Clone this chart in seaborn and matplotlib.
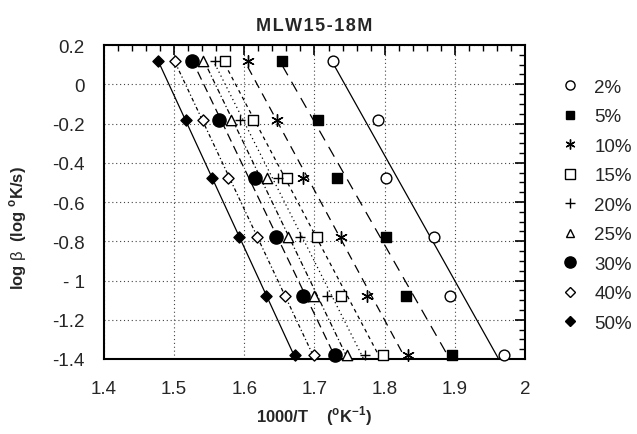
import numpy as np
import pandas as pd
import matplotlib
matplotlib.use("Agg")
import matplotlib.pyplot as plt
import seaborn as sns
from matplotlib.ticker import MultipleLocator
from matplotlib.lines import Line2D

# ---- data ----
log_beta = [0.12, -0.18, -0.48, -0.78, -1.08, -1.38]
conversions = ["2%", "5%", "10%", "15%", "20%", "25%", "30%", "40%", "50%"]
x_2 = [1.726, 1.790, 1.802, 1.870, 1.893, 1.970]
x_5 = [1.654, 1.705, 1.732, 1.802, 1.830, 1.896]
x_10 = [1.605, 1.646, 1.684, 1.738, 1.775, 1.833]
x_15 = [1.572, 1.612, 1.661, 1.703, 1.738, 1.797]
x_20 = [1.558, 1.594, 1.648, 1.679, 1.718, 1.772]
x_25 = [1.541, 1.581, 1.632, 1.662, 1.700, 1.746]
x_30 = [1.525, 1.564, 1.615, 1.645, 1.684, 1.729]
x_40 = [1.501, 1.541, 1.577, 1.618, 1.658, 1.699]
x_50 = [1.477, 1.517, 1.554, 1.592, 1.631, 1.672]
series_x = [x_2, x_5, x_10, x_15, x_20, x_25, x_30, x_40, x_50]
x_tick_labels = ["1.4", "1.5", "1.6", "1.7", "1.8", "1.9", "2"]
y_tick_labels = ["-1.4", "-1.2", "- 1", "-0.8", "-0.6", "-0.4", "-0.2", "0", "0.2"]

# ---- styles ----
styles = [
    dict(marker="o", fc="white", s=60, ls="-"),
    dict(marker="s", fc="black", s=55, ls=(0, (9, 6))),
    dict(marker=(6, 2, 0), fc="black", s=70, ls=(0, (7, 5))),
    dict(marker="s", fc="white", s=60, ls=(0, (3, 3))),
    dict(marker="+", fc="black", s=60, ls=(0, (1, 2.5))),
    dict(marker="^", fc="white", s=55, ls=(0, (4, 2, 1, 2))),
    dict(marker="o", fc="black", s=90, ls=(0, (7, 4))),
    dict(marker="D", fc="white", s=32, ls=(0, (3, 2, 1, 2))),
    dict(marker="D", fc="black", s=32, ls="-"),
]

sns.set_style("white")
plt.rcParams["font.family"] = ["Liberation Sans", "DejaVu Sans"]
plt.rcParams["mathtext.fontset"] = "custom"
plt.rcParams["mathtext.rm"] = "Liberation Sans"
plt.rcParams["mathtext.bf"] = "Liberation Sans:bold"

fig = plt.figure(figsize=(6.37, 4.35), dpi=100)
ax = fig.add_axes([104 / 637, 1 - 360 / 435, (525 - 104) / 637, (360 - 46) / 435])

handles = []
for lab, xs, st in zip(conversions, series_x, styles):
    df = pd.DataFrame({"x": xs, "y": log_beta})
    sns.regplot(data=df, x="x", y="y", ax=ax, ci=None, scatter=False, truncate=True,
                color="black", line_kws=dict(lw=0.9, ls=st["ls"], zorder=2))
    if st["marker"] == "+":
        ax.scatter(xs, log_beta, marker="+", c="black", s=st["s"], linewidths=1.0,
                   zorder=3, clip_on=False)
    else:
        ax.scatter(xs, log_beta, marker=st["marker"], facecolors=st["fc"],
                   edgecolors="black", s=st["s"], linewidths=1.0, zorder=3, clip_on=False)
    handles.append(Line2D([], [], ls="none", marker=st["marker"],
                          markerfacecolor=st["fc"], markeredgecolor="black",
                          color="black", markersize=np.sqrt(st["s"]) * 0.85,
                          markeredgewidth=1.0, label=lab))

ax.set_xlim(1.4, 2.0)
ax.set_ylim(-1.4, 0.2)
ax.xaxis.set_minor_locator(MultipleLocator(0.02))
ax.yaxis.set_minor_locator(MultipleLocator(0.05))
ax.set_xticks(np.arange(1.4, 2.01, 0.1))
ax.set_xticklabels(x_tick_labels)
ax.set_yticks(np.arange(-1.4, 0.21, 0.2))
ax.set_yticklabels(y_tick_labels)

ax.grid(True, which="major", ls=(0, (1, 2.5)), lw=0.8, color="#444444")
ax.tick_params(which="both", direction="in", top=True, right=True, color="black")
ax.tick_params(axis="x", which="major", length=7, width=1.2, labelsize=13.5, pad=15)
ax.tick_params(axis="y", which="major", length=7, width=1.2, labelsize=13.5, pad=14)
ax.tick_params(which="minor", length=4, width=1.0)
for sp in ax.spines.values():
    sp.set_visible(True)
    sp.set_color("black")
    sp.set_linewidth(1.5)

ax.set_title("M L W 1 5 - 1 8 M".replace(" ", "\u200a"), fontsize=13, fontweight="bold", pad=11)
ax.set_xlabel(r"1000/T    ($^{\mathbf{o}}$K$^{\mathbf{-1}}$)", fontsize=12,
              fontweight="bold", labelpad=5)
ax.set_ylabel(r"log $\mathrm{\beta}$  (log $^{\mathbf{o}}$K/s)", fontsize=12,
              fontweight="bold")
ax.yaxis.set_label_coords(-0.178, 0.42)

fig.legend(handles=handles, loc="upper left", bbox_to_anchor=(553 / 637, 1 - 72 / 435),
           frameon=False, fontsize=13.5, labelspacing=0.66, handlelength=1.0,
           handletextpad=0.8, borderaxespad=0)

fig.savefig("out.png", dpi=100)
